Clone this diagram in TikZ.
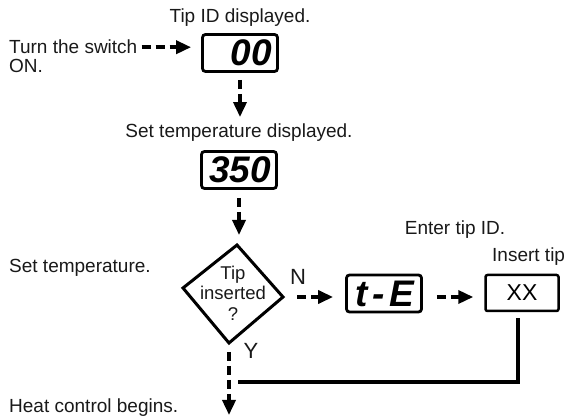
\documentclass[tikz,border=0pt]{standalone}
\usepackage{fontspec}
\setmainfont{Liberation Sans}
\usetikzlibrary{arrows.meta}
\begin{document}
\begin{tikzpicture}[x=1pt,y=-1pt,
  lcdbox/.style={draw, line width=2.8pt, rounded corners=3pt, minimum width=75pt, minimum height=37pt, inner sep=0pt},
  plainbox/.style={draw, line width=2.5pt, rounded corners=2pt, minimum width=73pt, minimum height=36pt, inner sep=0pt, font=\fontsize{23}{23}\selectfont},
  dasharrow/.style={line width=3.5pt, dash pattern=on 9pt off 5pt, -{Triangle[length=15pt,width=13pt]}},
  lbl/.style={font=\fontsize{19}{21}\selectfont, text=black!90, inner sep=0pt},
  yn/.style={font=\fontsize{22}{22}\selectfont, text=black!90, inner sep=0pt},
  lcd/.style={font=\fontsize{37}{37}\selectfont\bfseries\itshape, inner sep=0pt},
]
\useasboundingbox (0,0) rectangle (581,419);

% texts
\node[lbl, anchor=base] (t1) at (240,23) {Tip ID displayed.};
\node[lbl, anchor=base west] (sw) at (9,54) {Turn the switch};
\node[lbl, anchor=base west] (on) at (9,73) {ON.};
\node[lbl, anchor=base] (t2) at (239,138) {Set temperature displayed.};
\node[lbl, anchor=base west] (st) at (9,273) {Set temperature.};
\node[lbl, anchor=base west] (hc) at (9,413) {Heat control begins.};
\node[lbl, anchor=base] (et) at (455,235) {Enter tip ID.};
\node[lbl, anchor=base west] (it) at (492,262) {Insert tip};

% display boxes
\node[lcdbox] (b00) at (240,53) {};
\node[lcd, anchor=east] (d00) at (272,53) {00};
\node[lcdbox] (b350) at (239,170) {};
\node[lcd] (d350) at (240,170) {350};
\node[lcdbox] (bte) at (384,293.5) {};
\node[lcd] (dte) at (385,294) {t\hspace{5pt}-\hspace{5pt}E};
\node[plainbox] (bxx) at (522,293) {XX};

% decision diamond
\coordinate (dT) at (237,245);
\coordinate (dR) at (283,297);
\coordinate (dB) at (229,343);
\coordinate (dL) at (183,288);
\draw[line width=3pt, line join=miter] (dT) -- (dR) -- (dB) -- (dL) -- cycle;
\node[inner sep=0pt, align=center, font=\fontsize{18.5}{20.5}\selectfont, text=black!90] (dq) at (233,293) {Tip\\inserted\\?};
\node[yn] (n) at (298,277) {N};
\node[yn] (y) at (251,351) {Y};

% connectors
\draw[dasharrow] ([xshift=4pt]sw.east) -- ([xshift=-10pt]b00.west |- sw.east);
\draw[dasharrow] ([yshift=-7pt]b00.south) -- ([yshift=7pt]t2.north -| b00.south);
\draw[dasharrow] ([yshift=-8pt]b350.south) -- ([yshift=10pt]dT -| b350.south);
\draw[dasharrow] ([xshift=14pt]dR) -- ([xshift=-12pt]bte.west |- dR);
\draw[dasharrow] ([xshift=14pt]bte.east |- dR) -- ([xshift=-11pt]bxx.west |- dR);
\coordinate (yend) at (229,415);
\draw[dasharrow] ([yshift=-9pt]dB) -- (yend);
\coordinate (join) at (238,382);
\draw[line width=4.5pt] ([xshift=-4pt,yshift=-6pt]bxx.south) |- (join);
\end{tikzpicture}
\end{document}
